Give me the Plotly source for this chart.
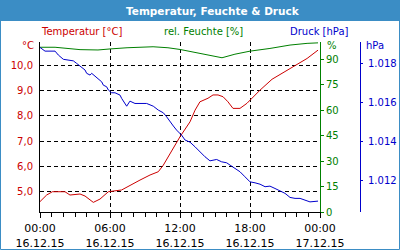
import pandas as pd
import plotly.graph_objects as go

BASE = pd.Timestamp("2015-12-16 00:00")

# Temperature [°C]
temp_hours = [0, 0.57, 1.06, 2.14, 2.57, 3.43, 3.86, 4.57, 5.14, 5.86, 7.0, 7.71, 8.57, 9.43,
              10.14, 10.57, 11.0, 11.43, 12.0, 12.86, 13.29, 13.71, 14.4, 14.83, 15.26, 15.69,
              16.11, 16.54, 17.14, 17.74, 18.17, 18.86, 19.89, 21.17, 22.03, 22.89, 23.83]
temp_vals = [4.61, 4.87, 5.0, 5.0, 4.87, 4.91, 4.83, 4.58, 4.71, 5.0, 5.07, 5.26, 5.46, 5.66,
             5.79, 6.05, 6.38, 6.71, 7.17, 7.76, 8.22, 8.55, 8.69, 8.82, 8.82, 8.75,
             8.55, 8.29, 8.29, 8.49, 8.69, 9.01, 9.44, 9.78, 10.0, 10.26, 10.59]

# Relative humidity [%]
hum_hours = [0, 1.29, 3.43, 4.97, 6.0, 7.46, 9.69, 10.97, 12.0, 13.71, 14.57, 15.6, 16.71,
             18.0, 19.71, 21.43, 22.89, 23.83]
hum_vals = [97.2, 97.2, 95.8, 95.6, 96.2, 96.9, 97.5, 96.9, 95.9, 93.6, 92.0, 91.0, 93.1,
            94.9, 96.5, 98.5, 99.5, 99.8]

# Pressure [hPa]
pres_hours = [0, 0.43, 1.29, 1.57, 2.0, 2.86, 3.14, 3.43, 3.86, 4.0, 4.29, 4.43, 4.71, 5.0,
              5.29, 5.43, 5.71, 5.86, 6.14, 6.43, 6.86, 7.0, 7.43, 7.71, 8.14, 9.14, 9.71,
              10.14, 10.57, 10.86, 11.14, 11.43, 11.71, 12.14, 12.43, 12.86, 13.29, 13.71,
              14.14, 14.57, 15.14, 15.57, 16.0, 16.29, 16.71, 17.14, 17.57, 18.0, 18.43,
              18.86, 19.29, 19.71, 20.14, 20.57, 21.0, 21.43, 21.86, 22.29, 22.71, 23.14, 23.83]
pres_vals = [1018.82, 1018.63, 1018.63, 1018.43, 1018.21, 1018.13, 1018.0, 1017.86, 1017.66,
             1017.49, 1017.40, 1017.49, 1017.35, 1017.23, 1017.05, 1016.88, 1016.80, 1016.63,
             1016.49, 1016.49, 1016.37, 1016.20, 1015.80, 1016.06, 1015.94, 1015.94, 1015.80,
             1015.60, 1015.46, 1015.25, 1015.00, 1014.78, 1014.57, 1014.31, 1014.06, 1013.95,
             1013.71, 1013.45, 1013.20, 1012.99, 1013.06, 1012.94, 1012.89, 1012.77, 1012.60,
             1012.43, 1012.17, 1011.91, 1011.86, 1011.79, 1011.66, 1011.69, 1011.57, 1011.45,
             1011.32, 1011.11, 1011.06, 1011.06, 1010.97, 1010.88, 1010.92]

temp_ticks = [5, 6, 7, 8, 9, 10]
temp_labels = ["5,0", "6,0", "7,0", "8,0", "9,0", "10,0"]
hum_ticks = [0, 15, 30, 45, 60, 75, 90]
pres_ticks = [1012, 1014, 1016, 1018]
pres_labels = ["1.012", "1.014", "1.016", "1.018"]

RED = "#CC0000"
GREEN = "#008000"
BLUE = "#0000CC"
FRAME = "#3B8DC5"
FONT = "DejaVu Sans"


def times(hours):
    return [BASE + pd.Timedelta(hours=h) for h in hours]


fig = go.Figure()
fig.add_trace(go.Scatter(x=times(temp_hours), y=temp_vals, mode="lines",
                         line=dict(color=RED, width=1), yaxis="y"))
fig.add_trace(go.Scatter(x=times(hum_hours), y=hum_vals, mode="lines",
                         line=dict(color=GREEN, width=1), yaxis="y2"))
fig.add_trace(go.Scatter(x=times(pres_hours), y=pres_vals, mode="lines",
                         line=dict(color=BLUE, width=1), yaxis="y3"))

L, R, T, B = 40, 40, 42, 38
PW, PH = 400 - L - R, 250 - T - B


def px(x):
    return (x - L) / PW


def py(y):
    return 1 - (y - T) / PH


fig.update_layout(
    width=400, height=250,
    margin=dict(l=L, r=R, t=T, b=B, pad=0, autoexpand=False),
    paper_bgcolor="white", plot_bgcolor="white",
    showlegend=False,
    font=dict(family=FONT, size=10, color="black"),
    xaxis=dict(
        domain=[0, 280 / PW], automargin=False,
        type="date",
        range=[BASE, BASE + pd.Timedelta(hours=24)],
        tickmode="linear", tick0=BASE, dtick=6 * 3600 * 1000,
        tickformat="%H:%M<br>%d.%m.%y",
        ticks="outside", ticklen=5, tickcolor="black",
        showline=True, linecolor="black", linewidth=1,
        showgrid=True, gridcolor="black", gridwidth=1, griddash="4px,3px",
        minor=dict(tickmode="linear", tick0=BASE, dtick=3600 * 1000, ticks="outside",
                   ticklen=4, tickcolor="black", showgrid=False),
        zeroline=False, ticklabelstandoff=1,
        tickfont=dict(family=FONT, size=11, color="black"),
    ),
    yaxis=dict(
        range=[4.2, 10.91], automargin=False,
        tickmode="array", tickvals=temp_ticks, ticktext=temp_labels,
        ticks="", showline=True, linecolor="black", linewidth=1,
        showgrid=True, gridcolor="black", gridwidth=1, griddash="4px,3px",
        zeroline=False, ticklabelstandoff=4,
        tickfont=dict(family=FONT, size=10, color=RED),
    ),
    yaxis2=dict(
        range=[0, 100.3], overlaying="y", side="right", anchor="x", automargin=False,
        tickmode="array", tickvals=hum_ticks,
        ticks="outside", ticklen=3, tickcolor=GREEN,
        showline=True, linecolor=GREEN, linewidth=1,
        showgrid=False, zeroline=False,
        tickfont=dict(family=FONT, size=10, color=GREEN),
    ),
    yaxis3=dict(
        range=[1010.36, 1019.10], overlaying="y", side="right", anchor="free", position=1.0,
        automargin=False,
        tickmode="array", tickvals=pres_ticks, ticktext=pres_labels,
        ticks="outside", ticklen=2, tickcolor=BLUE,
        showline=True, linecolor=BLUE, linewidth=1,
        showgrid=False, zeroline=False, ticklabelstandoff=3,
        tickfont=dict(family=FONT, size=10, color=BLUE),
    ),
)

shapes = [
    dict(type="rect", xref="paper", yref="paper",
         x0=px(0), x1=px(400), y0=py(21), y1=py(0),
         fillcolor=FRAME, line=dict(width=0), layer="above"),
    dict(type="rect", xref="paper", yref="paper",
         x0=px(0.5), x1=px(399.5), y0=py(249.5), y1=py(0.5),
         fillcolor="rgba(0,0,0,0)", line=dict(color=FRAME, width=1), layer="above"),
]
fig.update_layout(shapes=shapes)

ann = [
    dict(text="<b>Temperatur, Feuchte &amp; Druck</b>", x=px(213), y=py(10.5),
         font=dict(family=FONT, size=10.5, color="white")),
    dict(text="Temperatur [°C]", x=px(81), y=py(31), font=dict(family=FONT, size=10, color=RED)),
    dict(text="rel. Feuchte [%]", x=px(203), y=py(31), font=dict(family=FONT, size=10, color=GREEN)),
    dict(text="Druck [hPa]", x=px(319), y=py(31), font=dict(family=FONT, size=10, color=BLUE)),
    dict(text="°C", x=px(36), y=py(45.5), xanchor="right", font=dict(family=FONT, size=10, color=RED)),
    dict(text="%", x=px(325), y=py(45.5), xanchor="left", font=dict(family=FONT, size=10, color=GREEN)),
    dict(text="hPa", x=px(364), y=py(45), xanchor="left", font=dict(family=FONT, size=10, color=BLUE)),
]
for a in ann:
    a.setdefault("xanchor", "center")
    a.update(xref="paper", yref="paper", yanchor="middle", showarrow=False)
fig.update_layout(annotations=ann)

fig.write_html("out.html")
